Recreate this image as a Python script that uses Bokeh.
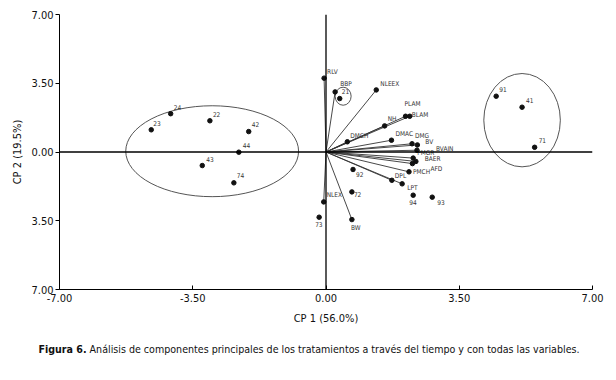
from bokeh.plotting import figure
from bokeh.models import Span, FixedTicker, ColumnDataSource, Div
from bokeh.layouts import column
from bokeh.core.properties import value
from bokeh.embed import file_html
from bokeh.resources import INLINE

# ---- data ----
trt_names = ["24", "23", "22", "42", "44", "43", "74", "91", "41", "71",
             "21", "92", "72", "73", "94", "93"]
trt_x = [-4.08, -4.59, -3.05, -2.03, -2.29, -3.25, -2.42, 4.47, 5.15, 5.48,
         0.36, 0.71, 0.68, -0.18, 2.29, 2.79]
trt_y = [1.95, 1.13, 1.59, 1.04, -0.01, -0.69, -1.57, 2.84, 2.28, 0.24,
         2.72, -0.89, -2.03, -3.32, -2.20, -2.30]

var_names = ["RLV", "BBP", "NLEEX", "PLAM", "BLAM", "NH", "DMCH", "DMAC", "DMG", "BV",
             "BVAIN", "PMGR", "BAER", "AFD", "PMCH", "DPL", "LPT", "NLEX", "BW"]
var_x = [-0.05, 0.24, 1.32, 2.09, 2.20, 1.54, 0.56, 1.72, 2.26, 2.40,
         2.39, 2.29, 2.36, 2.27, 2.18, 1.73, 2.00, -0.06, 0.68]
var_y = [3.76, 3.06, 3.16, 1.82, 1.82, 1.33, 0.52, 0.60, 0.42, 0.36,
         0.09, -0.31, -0.48, -0.59, -1.01, -1.44, -1.62, -2.54, -3.44]

# groups (ellipses): centre, width, height
grp_x = [-2.99, 5.15, 0.45]
grp_y = [0.04, 1.62, 2.84]
grp_w = [4.54, 2.01, 0.42]
grp_h = [4.63, 4.75, 0.92]

ticks = [-7, -3.5, 0, 3.5, 7]
x_tick_labels = ["-7.00", "-3.50", "0.00", "3.50", "7.00"]
y_tick_labels = ["7.00", "3.50", "0.00", "3.50", "7.00"]

x_title = "CP 1 (56.0%)"
y_title = "CP 2 (19.5%)"
caption_bold = "Figura 6."
caption_rest = "Análisis de componentes principales de los tratamientos a través del tiempo y con todas las variables."

# label offsets (pixels)
trt_dx = [3, 2, 3, 3, 4, 4, 3, 3, 4, 4, 2, 3, 2, -4, -4, 5]
trt_dy = [-6, -6, -6, -7, -7, -6, -7, -7, -7, -7, -7, 5, 3, 7, 7, 5]
var_dx = [3, 5, 4, -1, 2, 3, 3, 4, 3, 8, 19, 4, 9, 18, 4, 3, 5, 3, -1]
var_dy = [-6, -8, -6, -12, -1, -7, -6, -6, -8, -3, -1, -5, -2, 5, 0, -4, 4, -7, 8]

FONT = "'DejaVu Sans Condensed', 'Liberation Sans Narrow', Roboto, sans-serif"

p = figure(frame_width=533, frame_height=275, x_range=(-7, 7), y_range=(-7, 7),
           output_backend="svg", toolbar_location=None,
           min_border_left=59, min_border_right=16, min_border_top=14, min_border_bottom=45)
p.outline_line_color = None
p.xgrid.visible = False
p.ygrid.visible = False
p.background_fill_color = "white"

for ax in (p.xaxis[0], p.yaxis[0]):
    ax.ticker = FixedTicker(ticks=ticks)
    ax.minor_tick_line_color = None
    ax.axis_line_color = "black"
    ax.major_tick_line_color = "black"
    ax.major_label_text_font = FONT
    ax.major_label_text_font_size = "11px"
    ax.major_label_text_color = "#111"
    ax.axis_label_text_font = FONT
    ax.axis_label_text_font_size = "11px"
    ax.axis_label_text_font_style = "normal"
    ax.axis_label_text_color = "#111"

p.xaxis[0].major_label_overrides = {t: s for t, s in zip(ticks, x_tick_labels)}
p.yaxis[0].major_label_overrides = {t: s for t, s in zip(ticks, y_tick_labels)}
p.xaxis[0].major_tick_in = 4
p.xaxis[0].major_tick_out = 0
p.xaxis[0].major_label_standoff = 4
p.xaxis[0].axis_label = x_title
p.xaxis[0].axis_label_standoff = 7
p.yaxis[0].major_tick_in = 0
p.yaxis[0].major_tick_out = 4
p.yaxis[0].major_label_standoff = 2
p.yaxis[0].axis_label = y_title
p.yaxis[0].axis_label_standoff = 4

p.add_layout(Span(location=0, dimension="height", line_color="black", line_width=1.3))
p.add_layout(Span(location=0, dimension="width", line_color="black", line_width=1.3))

# ellipses
p.ellipse(x=grp_x, y=grp_y, width=grp_w, height=grp_h, fill_color=None,
          line_color="#555", line_width=1)

# vectors
vsrc = ColumnDataSource(dict(x0=[0] * len(var_x), y0=[0] * len(var_y), x=var_x, y=var_y,
                             name=var_names, dx=var_dx, dy=var_dy))
p.segment(x0="x0", y0="y0", x1="x", y1="y", source=vsrc, line_color="#333", line_width=0.9)
p.scatter(x="x", y="y", source=vsrc, size=4.5, color="#111")
p.text(x="x", y="y", text="name", x_offset="dx", y_offset="dy", source=vsrc,
       text_font=value(FONT), text_font_size="6.5px", text_color="#333",
       text_align="left", text_baseline="middle")

# treatments
tsrc = ColumnDataSource(dict(x=trt_x, y=trt_y, name=trt_names, dx=trt_dx, dy=trt_dy))
p.scatter(x="x", y="y", source=tsrc, size=4.5, color="#111")
p.text(x="x", y="y", text="name", x_offset="dx", y_offset="dy", source=tsrc,
       text_font=value(FONT), text_font_size="6.5px", text_color="#333",
       text_align="left", text_baseline="middle")

cap = Div(text=f"<b>{caption_bold}</b> {caption_rest}", width=608,
          styles={"font-family": FONT, "font-size": "10.6px", "text-align": "center",
                  "color": "#111", "padding-top": "3px", "width": "608px"})

layout = column(p, cap)
open("out.html", "w").write(file_html(layout, INLINE))
